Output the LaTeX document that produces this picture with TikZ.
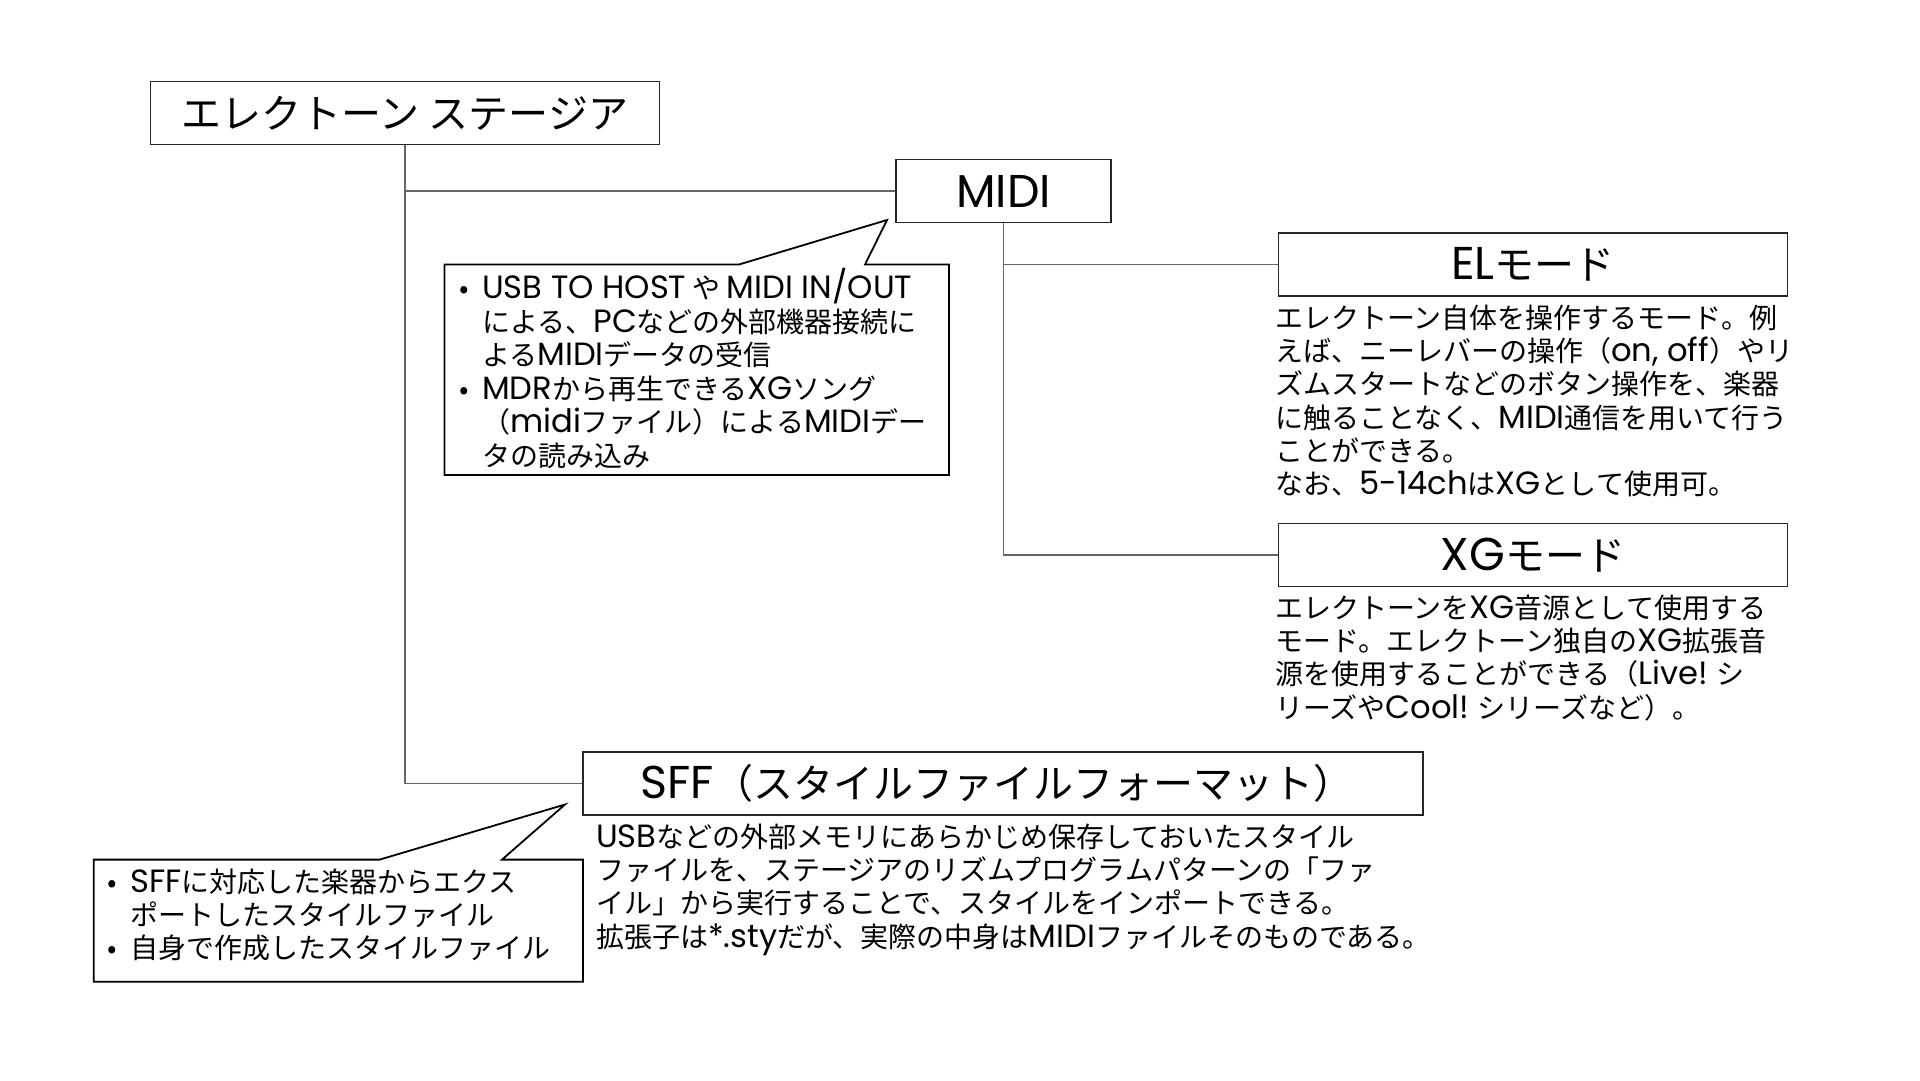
\documentclass[tikz,border=0pt]{standalone}
\usepackage{fontspec}
\setmainfont{Noto Sans CJK JP}
\newfontfamily\poppinsf[Scale=1.15]{Poppins}
\newcommand\pl[1]{{\poppinsf #1}}
\newcommand\myb{\makebox[23pt][l]{•}}
\newcommand\myi{\hspace*{23pt}}
\newcommand\topstrut{\rule{0pt}{40pt}}
\begin{document}
\begin{tikzpicture}[x=1pt,y=-1pt,
  box/.style={draw=black!85, line width=1.6pt, minimum height=63pt, inner sep=0pt, font=\fontsize{40}{48}\selectfont},
  conn/.style={draw=black!60, line width=1.2pt},
  callout/.style={draw=black, line width=1.8pt, line join=miter, fill=white},
  body/.style={anchor=north west, inner sep=0pt, align=left, font=\fontsize{28}{33.3}\selectfont},
  bodyc/.style={anchor=north west, inner sep=0pt, align=left, font=\fontsize{28}{33.5}\selectfont}
]
\useasboundingbox (0,0) rectangle (1920,1080);
\fill[white] (0,0) rectangle (1920,1080);

% main boxes
\node[box, minimum width=509pt] (stg) at (405,113) {エレクトーン ステージア};
\node[box, minimum width=215pt] (midi) at (1003.5,191) {\pl{MIDI}};
\node[box, minimum width=509pt] (el) at (1533,264.5) {\pl{EL}モード};
\node[box, minimum width=509pt] (xg) at (1533,555) {\pl{XG}モード};
\node[box, minimum width=840pt, minimum height=62.6pt] (sff) at (1003,783.5) {\pl{SFF}（スタイルファイルフォーマット）\hspace*{12pt}};

% connectors
\draw[conn] (stg.south) |- (sff.west);
\draw[conn] (stg.south |- midi.west) -- (midi.west);
\draw[conn] (midi.south) |- (xg.west);
\draw[conn] (midi.south |- el.west) -- (el.west);

% callout 1
\draw[callout] (444.5,264.5) -- (739,264.5) -- (887,220) -- (865,264.5) -- (949,264.5) -- (949,475) -- (444.5,475) -- cycle;
\node[bodyc] (c1) at (459,258.5) {\topstrut\myb \pl{USB TO HOST} や \pl{MIDI IN/OUT}\\
\myi による、\pl{PC}などの外部機器接続に\\
\myi よる\pl{MIDI}データの受信\\
\myb \pl{MDR}から再生できる\pl{XG}ソング\\
\myi （\pl{midi}ファイル）による\pl{MIDI}デー\\
\myi タの読み込み};

% callout 2
\draw[callout] (93.7,859.6) -- (379.7,859.6) -- (565,804.5) -- (502,859.6) -- (583,859.6) -- (583,981.8) -- (93.7,981.8) -- cycle;
\node[body] (c2) at (107,852) {\topstrut\myb \pl{SFF}に対応した楽器からエクス\\
\myi ポートしたスタイルファイル\\
\myb 自身で作成したスタイルファイル};

% descriptions
\node[body] (eld) at (1275,288) {\topstrut エレクトーン自体を操作するモード。例\\
えば、ニーレバーの操作（\pl{on, off}）やリ\\
ズムスタートなどのボタン操作を、楽器\\
に触ることなく、\pl{MIDI}通信を用いて行う\\
ことができる。\\
なお、\pl{5-14ch}は\pl{XG}として使用可。};

\node[body] (xgd) at (1275,578) {\topstrut エレクトーンを\pl{XG}音源として使用する\\
モード。エレクトーン独自の\pl{XG}拡張音\\
源を使用することができる（\pl{Live!} シ\\
リーズや\pl{Cool!} シリーズなど）。};

\node[body] (sffd) at (596,807) {\topstrut\pl{USB}などの外部メモリにあらかじめ保存しておいたスタイル\\
ファイルを、ステージアのリズムプログラムパターンの「ファ\\
イル」から実行することで、スタイルをインポートできる。\\
拡張子は\pl{*.sty}だが、実際の中身は\pl{MIDI}ファイルそのものである。};
\end{tikzpicture}
\end{document}
